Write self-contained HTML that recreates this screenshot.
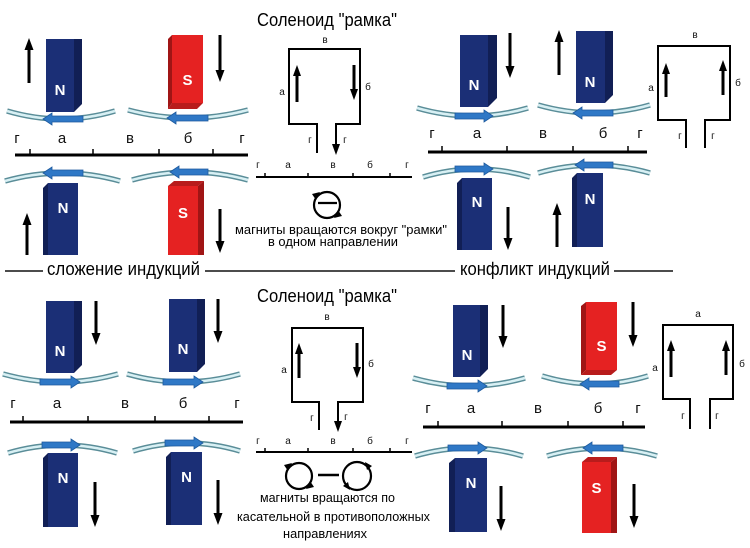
<!DOCTYPE html>
<html><head><meta charset="utf-8"><style>
html,body{margin:0;padding:0;background:#fff;}
svg{display:block;font-family:"Liberation Sans","DejaVu Sans",sans-serif;}
.trk{fill:none;stroke:#5a8d98;stroke-width:5.5;}
.trk2{fill:none;stroke:#d8f0f4;stroke-width:2.5;}
.ba{fill:#2f78c6;stroke:#1d5a9e;stroke-width:0.8;}
.nf{fill:#1b2f76;}
.ns{fill:#111f55;}
.rf{fill:#e52222;}
.rs{fill:#a01515;}
.rb{fill:#b81c1c;}
.ml{fill:#fff;font-weight:bold;font-size:15px;text-anchor:middle;}
.ar line{stroke:#000;stroke-width:3;}
.ar polygon{fill:#000;}
.sc{stroke:#000;stroke-width:3;}
.tk{stroke:#000;stroke-width:1.5;}
.lb{font-size:15px;text-anchor:middle;fill:#111;}
.sl{font-size:10px;text-anchor:middle;fill:#111;}
.fr{fill:none;stroke:#000;stroke-width:2;}
</style></head><body>
<svg width="750" height="548" viewBox="0 0 750 548" xmlns="http://www.w3.org/2000/svg">
<rect width="750" height="548" fill="#fff"/>

<!-- Titles -->
<text x="257" y="26" font-size="18" textLength="140" lengthAdjust="spacingAndGlyphs">Соленоид &quot;рамка&quot;</text>
<text x="257" y="302" font-size="18" textLength="140" lengthAdjust="spacingAndGlyphs">Соленоид &quot;рамка&quot;</text>

<!-- ===== MAGNETS ===== -->
<!-- 1 -->
<rect class="nf" x="46" y="39" width="28" height="73"/>
<polygon class="ns" points="74,39 82,39 82,104 74,112"/>
<text class="ml" x="60" y="95">N</text>
<!-- 2 red -->
<polygon class="rs" points="168,39 172,35 172,103 168,109"/>
<polygon class="rb" points="168,109 197,109 203,103 172,103"/>
<rect class="rf" x="172" y="35" width="31" height="68"/>
<text class="ml" x="187.5" y="85">S</text>
<!-- 3 -->
<polygon class="ns" points="43,188 48,183 48,255 43,255"/>
<rect class="nf" x="48" y="183" width="30" height="72"/>
<text class="ml" x="63" y="213">N</text>
<!-- 4 red -->
<polygon class="rb" points="168,186 174,181 204,181 198,186"/>
<polygon class="rs" points="198,186 204,181 204,255 198,255"/>
<rect class="rf" x="168" y="186" width="30" height="69"/>
<text class="ml" x="183" y="218">S</text>
<!-- 5 -->
<rect class="nf" x="460" y="35" width="28" height="72"/>
<polygon class="ns" points="488,35 497,35 497,98 488,107"/>
<text class="ml" x="474" y="90">N</text>
<!-- 6 -->
<rect class="nf" x="576" y="31" width="29" height="72"/>
<polygon class="ns" points="605,31 613,31 613,95 605,103"/>
<text class="ml" x="590" y="87">N</text>
<!-- 7 -->
<polygon class="ns" points="457,183 462,178 462,250 457,250"/>
<rect class="nf" x="462" y="178" width="30" height="72"/>
<text class="ml" x="477" y="207">N</text>
<!-- 8 -->
<polygon class="ns" points="572,178 577,173 577,247 572,247"/>
<rect class="nf" x="577" y="173" width="26" height="74"/>
<text class="ml" x="590" y="204">N</text>
<!-- 9 -->
<rect class="nf" x="46" y="301" width="28" height="72"/>
<polygon class="ns" points="74,301 82,301 82,365 74,373"/>
<text class="ml" x="60" y="356">N</text>
<!-- 10 -->
<rect class="nf" x="169" y="299" width="28" height="73"/>
<polygon class="ns" points="197,299 205,299 205,364 197,372"/>
<text class="ml" x="183" y="354">N</text>
<!-- 11 -->
<polygon class="ns" points="43,458 48,453 48,527 43,527"/>
<rect class="nf" x="48" y="453" width="30" height="74"/>
<text class="ml" x="63" y="483">N</text>
<!-- 12 -->
<polygon class="ns" points="166,457 171,452 171,525 166,525"/>
<rect class="nf" x="171" y="452" width="31" height="73"/>
<text class="ml" x="186.5" y="482">N</text>
<!-- 13 -->
<rect class="nf" x="453" y="305" width="27" height="72"/>
<polygon class="ns" points="480,305 488,305 488,369 480,377"/>
<text class="ml" x="467" y="360">N</text>
<!-- 14 red -->
<polygon class="rs" points="581,306 586,302 586,370 581,375"/>
<polygon class="rb" points="581,375 611,375 617,370 586,370"/>
<rect class="rf" x="586" y="302" width="31" height="68"/>
<text class="ml" x="601.5" y="351">S</text>
<!-- 15 -->
<polygon class="ns" points="449,463 455,458 455,532 449,532"/>
<rect class="nf" x="455" y="458" width="32" height="74"/>
<text class="ml" x="471" y="488">N</text>
<!-- 16 red -->
<polygon class="rb" points="582,462 588,457 617,457 611,462"/>
<polygon class="rs" points="611,462 617,457 617,533 611,533"/>
<rect class="rf" x="582" y="462" width="29" height="71"/>
<text class="ml" x="596.5" y="493">S</text>

<!-- ===== TRACKS ===== -->
<g>
<path class="trk" d="M7,111 Q61,127 115,111"/><path class="trk2" d="M7,111 Q61,127 115,111"/>
<path class="trk" d="M128,110 Q188,126 248,110"/><path class="trk2" d="M128,110 Q188,126 248,110"/>
<path class="trk" d="M5,181 Q62.5,165 120,181"/><path class="trk2" d="M5,181 Q62.5,165 120,181"/>
<path class="trk" d="M132,180 Q190,164 248,180"/><path class="trk2" d="M132,180 Q190,164 248,180"/>
<path class="trk" d="M417,108 Q472.5,124 528,108"/><path class="trk2" d="M417,108 Q472.5,124 528,108"/>
<path class="trk" d="M538,105 Q594,121 650,105"/><path class="trk2" d="M538,105 Q594,121 650,105"/>
<path class="trk" d="M423,177 Q476.5,161 530,177"/><path class="trk2" d="M423,177 Q476.5,161 530,177"/>
<path class="trk" d="M538,173 Q594,157 650,173"/><path class="trk2" d="M538,173 Q594,157 650,173"/>
<path class="trk" d="M3,374 Q60.5,390 118,374"/><path class="trk2" d="M3,374 Q60.5,390 118,374"/>
<path class="trk" d="M127,374 Q183.5,390 240,374"/><path class="trk2" d="M127,374 Q183.5,390 240,374"/>
<path class="trk" d="M8,453 Q62.5,437 117,453"/><path class="trk2" d="M8,453 Q62.5,437 117,453"/>
<path class="trk" d="M133,451 Q186.5,435 240,451"/><path class="trk2" d="M133,451 Q186.5,435 240,451"/>
<path class="trk" d="M413,378 Q469,394 525,378"/><path class="trk2" d="M413,378 Q469,394 525,378"/>
<path class="trk" d="M542,376 Q595,392 648,376"/><path class="trk2" d="M542,376 Q595,392 648,376"/>
<path class="trk" d="M415,456 Q469,440 523,456"/><path class="trk2" d="M415,456 Q469,440 523,456"/>
<path class="trk" d="M547,456 Q602,440 657,456"/><path class="trk2" d="M547,456 Q602,440 657,456"/>
</g>

<!-- ===== BLUE ARROWS ===== -->
<g class="ba">
<polygon points="43,119 52,113 52,116 83,116 83,122 52,122 52,125"/>
<polygon points="167,118 176,112 176,115 208,115 208,121 176,121 176,124"/>
<polygon points="43,173 52,167 52,170 83,170 83,176 52,176 52,179"/>
<polygon points="170,172 179,166 179,169 208,169 208,175 179,175 179,178"/>
<polygon points="493,116 484,110 484,113 455,113 455,119 484,119 484,122"/>
<polygon points="573,113 582,107 582,110 613,110 613,116 582,116 582,119"/>
<polygon points="493,169 484,163 484,166 455,166 455,172 484,172 484,175"/>
<polygon points="575,165 584,159 584,162 613,162 613,168 584,168 584,171"/>
<polygon points="80,382 71,376 71,379 40,379 40,385 71,385 71,388"/>
<polygon points="203,382 194,376 194,379 163,379 163,385 194,385 194,388"/>
<polygon points="80,445 71,439 71,442 42,442 42,448 71,448 71,451"/>
<polygon points="203,443 194,437 194,440 165,440 165,446 194,446 194,449"/>
<polygon points="487,386 478,380 478,383 447,383 447,389 478,389 478,392"/>
<polygon points="580,384 589,378 589,381 619,381 619,387 589,387 589,390"/>
<polygon points="487,448 478,442 478,445 448,445 448,451 478,451 478,454"/>
<polygon points="583,448 592,442 592,445 623,445 623,451 592,451 592,454"/>
</g>

<!-- ===== BIG BLACK ARROWS ===== -->
<g class="ar">
<!-- U(29,38,83) -->
<line x1="29" y1="48" x2="29" y2="83"/><polygon points="29,38 24.5,50 33.5,50"/>
<!-- D(220,35,82) -->
<line x1="220" y1="35" x2="220" y2="72"/><polygon points="220,82 215.5,70 224.5,70"/>
<!-- U(27,213,255) -->
<line x1="27" y1="223" x2="27" y2="255"/><polygon points="27,213 22.5,225 31.5,225"/>
<!-- D(220,209,253) -->
<line x1="220" y1="209" x2="220" y2="243"/><polygon points="220,253 215.5,241 224.5,241"/>
<!-- D(510,33,78) -->
<line x1="510" y1="33" x2="510" y2="68"/><polygon points="510,78 505.5,66 514.5,66"/>
<!-- U(559,30,75) -->
<line x1="559" y1="40" x2="559" y2="75"/><polygon points="559,30 554.5,42 563.5,42"/>
<!-- D(508,207,250) -->
<line x1="508" y1="207" x2="508" y2="240"/><polygon points="508,250 503.5,238 512.5,238"/>
<!-- U(557,203,247) -->
<line x1="557" y1="213" x2="557" y2="247"/><polygon points="557,203 552.5,215 561.5,215"/>
<!-- D(96,301,345) -->
<line x1="96" y1="301" x2="96" y2="335"/><polygon points="96,345 91.5,333 100.5,333"/>
<!-- D(218,299,343) -->
<line x1="218" y1="299" x2="218" y2="333"/><polygon points="218,343 213.5,331 222.5,331"/>
<!-- D(95,482,527) -->
<line x1="95" y1="482" x2="95" y2="517"/><polygon points="95,527 90.5,515 99.5,515"/>
<!-- D(218,480,525) -->
<line x1="218" y1="480" x2="218" y2="515"/><polygon points="218,525 213.5,513 222.5,513"/>
<!-- D(503,305,348) -->
<line x1="503" y1="305" x2="503" y2="338"/><polygon points="503,348 498.5,336 507.5,336"/>
<!-- D(633,302,347) -->
<line x1="633" y1="302" x2="633" y2="337"/><polygon points="633,347 628.5,335 637.5,335"/>
<!-- D(501,486,531) -->
<line x1="501" y1="486" x2="501" y2="521"/><polygon points="501,531 496.5,519 505.5,519"/>
<!-- D(634,484,528) -->
<line x1="634" y1="484" x2="634" y2="518"/><polygon points="634,528 629.5,516 638.5,516"/>

<!-- frame inner arrows -->
<line x1="297" y1="74" x2="297" y2="102"/><polygon points="297,65 293,76 301,76"/>
<line x1="354" y1="65" x2="354" y2="91"/><polygon points="354,100 350,89 358,89"/>
<line x1="299" y1="352" x2="299" y2="378"/><polygon points="299,343 295,354 303,354"/>
<line x1="357" y1="343" x2="357" y2="369"/><polygon points="357,378 353,367 361,367"/>
<line x1="666" y1="72" x2="666" y2="97"/><polygon points="666,63 662,74 670,74"/>
<line x1="723" y1="69" x2="723" y2="95"/><polygon points="723,60 719,71 727,71"/>
<line x1="671" y1="349" x2="671" y2="377"/><polygon points="671,340 667,351 675,351"/>
<line x1="726" y1="349" x2="726" y2="375"/><polygon points="726,340 722,351 730,351"/>
</g>

<!-- ===== SCALE LINES ===== -->
<line class="sc" x1="15" y1="155" x2="248" y2="155"/>
<line class="tk" x1="30" y1="149" x2="30" y2="155"/><line class="tk" x1="93" y1="149" x2="93" y2="155"/><line class="tk" x1="159" y1="149" x2="159" y2="155"/><line class="tk" x1="213" y1="149" x2="213" y2="155"/>
<line class="sc" x1="428" y1="152" x2="647" y2="152"/>
<line class="tk" x1="442" y1="146" x2="442" y2="152"/><line class="tk" x1="507" y1="146" x2="507" y2="152"/><line class="tk" x1="573" y1="146" x2="573" y2="152"/><line class="tk" x1="628" y1="146" x2="628" y2="152"/>
<line class="sc" x1="10" y1="422" x2="243" y2="422"/>
<line class="tk" x1="23" y1="416" x2="23" y2="422"/><line class="tk" x1="88" y1="416" x2="88" y2="422"/><line class="tk" x1="155" y1="416" x2="155" y2="422"/><line class="tk" x1="209" y1="416" x2="209" y2="422"/>
<line class="sc" x1="423" y1="427" x2="645" y2="427"/>
<line class="tk" x1="438" y1="421" x2="438" y2="427"/><line class="tk" x1="502" y1="421" x2="502" y2="427"/><line class="tk" x1="568" y1="421" x2="568" y2="427"/><line class="tk" x1="623" y1="421" x2="623" y2="427"/>

<!-- scale labels -->
<text class="lb" x="17" y="143">г</text><text class="lb" x="62" y="143">а</text><text class="lb" x="130" y="143">в</text><text class="lb" x="188" y="143">б</text><text class="lb" x="242" y="143">г</text>
<text class="lb" x="432" y="138">г</text><text class="lb" x="477" y="138">а</text><text class="lb" x="543" y="138">в</text><text class="lb" x="603" y="138">б</text><text class="lb" x="640" y="138">г</text>
<text class="lb" x="13" y="408">г</text><text class="lb" x="57" y="408">а</text><text class="lb" x="125" y="408">в</text><text class="lb" x="183" y="408">б</text><text class="lb" x="237" y="408">г</text>
<text class="lb" x="428" y="413">г</text><text class="lb" x="471" y="413">а</text><text class="lb" x="538" y="413">в</text><text class="lb" x="598" y="413">б</text><text class="lb" x="638" y="413">г</text>

<!-- ===== FRAMES ===== -->
<path class="fr" d="M317,153 V124 H289 V49 H360 V124 H336 V146"/>
<polygon points="336,155 332,144 340,144" fill="#000"/>
<path class="fr" d="M319,430 V402 H292 V328 H363 V402 H338 V423"/>
<polygon points="338,432 334,421 342,421" fill="#000"/>
<path class="fr" d="M686,148 V120 H658 V46 H730 V120 H705 V148"/>
<path class="fr" d="M690,429 V399 H663 V325 H733 V399 H710 V429"/>

<!-- frame labels -->
<text class="sl" x="325" y="43">в</text><text class="sl" x="282" y="95">а</text><text class="sl" x="368" y="90">б</text><text class="sl" x="310" y="143">г</text><text class="sl" x="345" y="143">г</text>
<text class="sl" x="327" y="320">в</text><text class="sl" x="284" y="373">а</text><text class="sl" x="371" y="367">б</text><text class="sl" x="312" y="421">г</text><text class="sl" x="346" y="420">г</text>
<text class="sl" x="695" y="38">в</text><text class="sl" x="651" y="91">а</text><text class="sl" x="738" y="86">б</text><text class="sl" x="680" y="139">г</text><text class="sl" x="713" y="139">г</text>
<text class="sl" x="698" y="317">а</text><text class="sl" x="655" y="371">а</text><text class="sl" x="742" y="367">б</text><text class="sl" x="683" y="419">г</text><text class="sl" x="717" y="419">г</text>

<!-- small scales middle -->
<line x1="256" y1="177" x2="412" y2="177" stroke="#000" stroke-width="2"/>
<line class="tk" x1="265" y1="173" x2="265" y2="177"/><line class="tk" x1="308" y1="173" x2="308" y2="177"/><line class="tk" x1="353" y1="173" x2="353" y2="177"/><line class="tk" x1="390" y1="173" x2="390" y2="177"/>
<text class="sl" x="258" y="168">г</text><text class="sl" x="288" y="168">а</text><text class="sl" x="333" y="168">в</text><text class="sl" x="370" y="168">б</text><text class="sl" x="407" y="168">г</text>
<line x1="256" y1="452" x2="412" y2="452" stroke="#000" stroke-width="2"/>
<line class="tk" x1="265" y1="448" x2="265" y2="452"/><line class="tk" x1="308" y1="448" x2="308" y2="452"/><line class="tk" x1="353" y1="448" x2="353" y2="452"/><line class="tk" x1="390" y1="448" x2="390" y2="452"/>
<text class="sl" x="258" y="444">г</text><text class="sl" x="288" y="444">а</text><text class="sl" x="333" y="444">в</text><text class="sl" x="370" y="444">б</text><text class="sl" x="407" y="444">г</text>

<!-- rotation symbols -->
<circle cx="327" cy="205" r="13" fill="none" stroke="#000" stroke-width="2.2"/>
<line x1="318" y1="203" x2="337" y2="203" stroke="#000" stroke-width="2.2"/>
<polygon points="320,192 312,194 316,200" fill="#000"/>
<polygon points="334,218 342,216 338,210" fill="#000"/>

<circle cx="299" cy="476" r="13" fill="none" stroke="#000" stroke-width="2.2"/>
<polygon points="292,463 284,465 288,471" fill="#000"/>
<polygon points="306,489 314,487 310,481" fill="#000"/>
<line x1="318" y1="475" x2="339" y2="475" stroke="#000" stroke-width="2.5"/>
<circle cx="357" cy="476" r="14" fill="none" stroke="#000" stroke-width="2.2"/>
<polygon points="365,462 372,466 367,470" fill="#000"/>
<polygon points="350,490 343,486 348,482" fill="#000"/>

<!-- middle texts -->
<text x="235" y="234" font-size="13" textLength="212" lengthAdjust="spacingAndGlyphs">магниты вращаются вокруг &quot;рамки&quot;</text>
<text x="268" y="246" font-size="13" textLength="130" lengthAdjust="spacingAndGlyphs">в одном направлении</text>
<text x="260" y="502" font-size="13" textLength="135" lengthAdjust="spacingAndGlyphs">магниты вращаются по</text>
<text x="237" y="521" font-size="13" textLength="193" lengthAdjust="spacingAndGlyphs">касательной в противоположных</text>
<text x="283" y="538" font-size="13" textLength="84" lengthAdjust="spacingAndGlyphs">направлениях</text>

<!-- divider -->
<line x1="5" y1="271" x2="43" y2="271" stroke="#111" stroke-width="1.5"/>
<line x1="205" y1="271" x2="455" y2="271" stroke="#111" stroke-width="1.5"/>
<line x1="614" y1="271" x2="673" y2="271" stroke="#111" stroke-width="1.5"/>
<text x="47" y="275" font-size="18" textLength="153" lengthAdjust="spacingAndGlyphs">сложение индукций</text>
<text x="460" y="275" font-size="18" textLength="150" lengthAdjust="spacingAndGlyphs">конфликт индукций</text>
</svg>
</body></html>
